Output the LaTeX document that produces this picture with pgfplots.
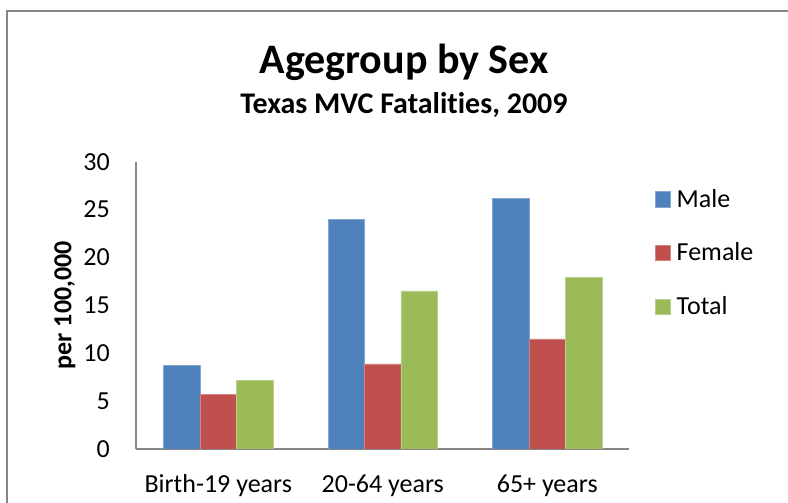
\documentclass[border=0pt]{standalone}
\usepackage{pgfplots}
\pgfplotsset{compat=1.18}
\usepackage{fontspec}
\setmainfont{Carlito}[Ligatures=NoCommon]
\definecolor{cmale}{HTML}{4F81BD}
\definecolor{cfemale}{HTML}{C0504D}
\definecolor{ctotal}{HTML}{9BBB59}
\definecolor{caxis}{RGB}{134,134,134}
\begin{document}
\begin{tikzpicture}[x=1pt,y=1pt]
\useasboundingbox (0,0) rectangle (788,503);
\draw[caxis, line width=1.3pt] (7,-5) -- (7,492) -- (795,492);
\node[anchor=base, font=\fontsize{42}{48}\selectfont\bfseries] at (404,429.7) {Agegroup by Sex};
\node[anchor=base, font=\fontsize{30}{36}\selectfont\bfseries] at (404,389.7) {Texas MVC Fatalities, 2009};
\begin{axis}[
  at={(136pt,54pt)}, anchor=south west,
  scale only axis, width=493.5pt, height=287.3pt,
  ybar=0pt, bar width=36.4pt,
  xmin=-0.5, xmax=2.5, ymin=0, ymax=30,
  xtick={0,1,2}, xticklabels={Birth-19 years,20-64 years,65+ years},
  ytick={0,5,...,30},
  axis x line=bottom, axis y line=left,
  axis line style={-, draw=caxis, line width=1.3pt},
  major tick length=0pt,
  tick label style={font=\fontsize{26}{30}\selectfont},
  /pgf/number format/assume math mode=true,
  xticklabel style={anchor=base, inner sep=0pt, yshift=-43.7pt},
  yticklabel style={anchor=east, inner sep=0pt, xshift=-26pt},
  ylabel={per 100,000},
  every axis y label/.style={at={(axis description cs:-0.1307,0.5)}, rotate=90, anchor=base, inner sep=0pt, font=\fontsize{26}{30}\selectfont\bfseries},
  legend image code/.code={\fill[#1] (0pt,-9.5pt) rectangle (15pt,6pt);},
  legend style={draw=none, fill=none, at={(axis description cs:1.0517,0.9086)}, anchor=north west, inner sep=0pt, row sep=34.3pt,
    font=\fontsize{26}{30}\selectfont,
    nodes={inner sep=0pt, text height=19pt, text depth=0pt},
    /tikz/every odd column/.append style={column sep=6pt}},
  legend cell align=left,
]
\addplot[fill=cmale, draw=cmale!70!white, line width=0.5pt] coordinates {(0,8.7) (1,24.0) (2,26.2)};
\addplot[fill=cfemale, draw=cfemale!70!white, line width=0.5pt] coordinates {(0,5.7) (1,8.9) (2,11.5)};
\addplot[fill=ctotal, draw=ctotal!70!white, line width=0.5pt] coordinates {(0,7.2) (1,16.5) (2,17.9)};
\legend{Male,Female,Total}
\end{axis}
\end{tikzpicture}
\end{document}
